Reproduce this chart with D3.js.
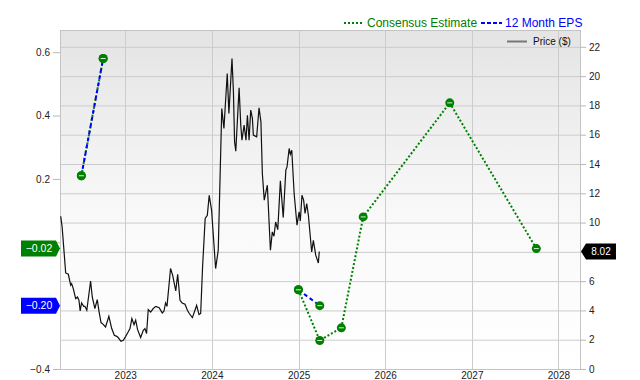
<!DOCTYPE html>
<html>
<head>
<meta charset="utf-8">
<script src="https://cdn.jsdelivr.net/npm/d3@7"></script>
<style>
    body { margin: 0; background: #fff; }
    svg { display: block; font-family: "Liberation Sans", Arial, sans-serif; }
    .grid line { stroke: #cccccc; stroke-width: 1; }
    .axis path { display: none; }
    .axis line { stroke: #b8b8b8; }
    .axis text { fill: #222; font-size: 10px; }
</style>
</head>
<body>
<div id="chart"></div>
<script>
// weekly-ish closing prices
var priceDates = [
    "2022-04-04","2022-04-10","2022-04-25","2022-05-06","2022-05-16","2022-05-20","2022-05-27","2022-06-06",
    "2022-06-14","2022-06-20","2022-06-25","2022-07-01","2022-07-10","2022-07-15","2022-07-23","2022-08-08",
    "2022-08-15","2022-08-26","2022-09-05","2022-09-13","2022-09-21","2022-09-30","2022-10-10","2022-10-24",
    "2022-11-05","2022-11-16","2022-11-26","2022-12-02","2022-12-14","2022-12-24","2023-01-03","2023-01-11",
    "2023-01-21","2023-01-29","2023-02-07","2023-02-14","2023-02-22","2023-03-07","2023-03-18","2023-03-25",
    "2023-04-01","2023-04-08","2023-04-18","2023-04-29","2023-05-10","2023-05-24","2023-06-06","2023-06-13",
    "2023-06-20","2023-06-26","2023-07-11","2023-07-20","2023-08-02","2023-08-10","2023-08-20","2023-08-29",
    "2023-09-10","2023-09-20","2023-09-28","2023-10-11","2023-10-22","2023-10-29","2023-11-08","2023-11-15",
    "2023-11-23","2023-12-04","2023-12-13","2023-12-21","2023-12-31","2024-01-17","2024-01-28","2024-02-12",
    "2024-02-21","2024-03-06","2024-03-13","2024-03-26","2024-04-01","2024-04-06","2024-04-11","2024-04-25",
    "2024-05-02","2024-05-07","2024-05-16","2024-05-24","2024-05-30","2024-06-06","2024-06-13","2024-06-20",
    "2024-06-24","2024-07-08","2024-07-18","2024-07-26","2024-08-01","2024-08-09","2024-08-22","2024-09-04",
    "2024-09-12","2024-09-19","2024-09-26","2024-10-05","2024-10-16","2024-10-28","2024-11-08","2024-11-13",
    "2024-11-22","2024-11-27","2024-12-03","2024-12-13","2024-12-25","2025-01-03","2025-01-08","2025-01-15",
    "2025-01-22","2025-01-28","2025-02-04","2025-02-11","2025-02-25","2025-03-04","2025-03-14","2025-03-25",
    "2025-03-29"
];
var priceValues = [
    10.43, 9.70, 6.56, 6.47, 5.72, 5.83, 5.49, 4.81,
    4.92, 4.69, 3.96, 4.51, 4.28, 4.28, 4.01, 6.01,
    4.92, 4.13, 4.74, 3.89, 3.17, 3.05, 2.87, 3.60,
    2.76, 2.30, 2.23, 2.15, 1.89, 1.96, 2.23, 2.46,
    2.76, 3.44, 3.02, 3.33, 2.69, 2.15, 2.64, 2.76,
    2.42, 4.06, 3.89, 4.13, 4.28, 4.19, 3.83, 3.94,
    4.51, 4.28, 6.86, 6.40, 5.33, 6.47, 4.69, 4.51,
    4.42, 4.01, 3.79, 3.51, 4.01, 4.35, 3.72, 3.79,
    6.97, 10.28, 10.50, 11.86, 10.84, 6.86, 8.11, 17.79,
    16.42, 20.18, 17.45, 21.21, 18.93, 15.51, 14.87, 19.20,
    16.65, 15.63, 16.65, 15.63, 17.33, 15.63, 17.68, 17.11,
    15.97, 15.85, 17.83, 16.88, 13.35, 11.53, 12.55, 8.11,
    9.36, 9.07, 10.04, 9.52, 12.85, 10.34, 13.58, 13.80,
    15.06, 14.67, 14.94, 11.98, 9.82, 10.73, 10.11, 11.87,
    11.53, 10.62, 11.30, 10.50, 7.99, 8.79, 7.77, 7.24,
    8.02
];

// quarterly EPS (null = gap in the line)
var epsDates = ["2022-06-30", "2022-09-30", "2023-06-30", "2024-12-31", "2025-03-31"];
var epsValues = [0.21, 0.58, null, -0.15, -0.20];

var consensusDates = ["2022-06-30", "2022-09-30", "2023-06-30", "2024-12-31", "2025-03-31",
    "2025-06-30", "2025-09-30", "2026-09-30", "2027-09-30"];
var consensusValues = [0.21, 0.58, null, -0.15, -0.31, -0.27, 0.08, 0.44, -0.02];

var yearTicks = ["2023", "2024", "2025", "2026", "2027", "2028"];
var epsTicks = [0.6, 0.4, 0.2, 0.0, -0.2, -0.4];
var priceTicks = [0, 2, 4, 6, 8, 10, 12, 14, 16, 18, 20, 22];

function init() {
    var w = 640;
    var h = 380;
    var margin = { top: 30, right: 60, bottom: 11, left: 60 };
    var width = w - margin.left - margin.right;
    var height = h - margin.top - margin.bottom;
    var parse = d3.timeParse("%Y-%m-%d");
    var green = "#008000";
    var blue = "#0000ff";

    var price = priceDates.map(function(d, i) {
        return { date: parse(d), value: priceValues[i] };
    });
    var eps = epsDates.map(function(d, i) {
        return { date: parse(d), value: epsValues[i] };
    });
    var consensus = consensusDates.map(function(d, i) {
        return { date: parse(d), value: consensusValues[i] };
    });

    var lastCons = consensusValues[consensusValues.length - 1];
    var lastEps = epsValues[epsValues.length - 1];
    var lastPrice = priceValues[priceValues.length - 1];

    var svg = d3.select("#chart")
        .append("svg")
        .attr("width", w)
        .attr("height", h);

    var grad = svg.append("defs").append("linearGradient")
        .attr("id", "bg")
        .attr("x1", 0).attr("y1", 0).attr("x2", 0).attr("y2", 1);
    grad.append("stop").attr("offset", "0%").attr("stop-color", "#e4e4e4");
    grad.append("stop").attr("offset", "55%").attr("stop-color", "#f9f9f9");
    grad.append("stop").attr("offset", "100%").attr("stop-color", "#ffffff");

    var g = svg.append("g")
        .attr("transform", "translate(" + margin.left + "," + margin.top + ")");

    var xScale = d3.scaleTime()
        .domain([parse("2022-04-01"), parse("2028-04-01")])
        .range([0, width]);

    var yPrice = d3.scaleLinear()
        .domain([0, 23.15])
        .range([height, 0]);

    var yEps = d3.scaleLinear()
        .domain([-0.4, 0.67])
        .range([height, 0]);

    g.append("rect")
        .attr("width", width)
        .attr("height", height)
        .attr("fill", "url(#bg)");

    // grid
    var grid = g.append("g").attr("class", "grid");
    grid.selectAll(".h")
        .data(priceTicks.slice(1))
        .enter().append("line")
        .attr("x1", 0).attr("x2", width)
        .attr("y1", function(d) { return yPrice(d) + 0.5; })
        .attr("y2", function(d) { return yPrice(d) + 0.5; });
    grid.selectAll(".v")
        .data(yearTicks)
        .enter().append("line")
        .attr("y1", 0).attr("y2", height)
        .attr("x1", function(d) { return Math.round(xScale(parse(d + "-01-01"))) + 0.5; })
        .attr("x2", function(d) { return Math.round(xScale(parse(d + "-01-01"))) + 0.5; });

    g.append("rect")
        .attr("x", 0.5).attr("y", 0.5)
        .attr("width", width).attr("height", height)
        .attr("fill", "none")
        .attr("stroke", "#c4c4c4");

    // axes
    var xAxis = d3.axisBottom(xScale)
        .tickValues(yearTicks.map(function(d) { return parse(d + "-01-01"); }))
        .tickFormat(d3.timeFormat("%Y"))
        .tickSize(0)
        .tickPadding(3);
    g.append("g")
        .attr("class", "x axis")
        .attr("transform", "translate(0," + height + ")")
        .call(xAxis);

    // labels sitting under a value tag are hidden in the original
    function hiddenLeft(v) {
        return Math.abs(yEps(v) - yEps(lastCons)) < 9 || Math.abs(yEps(v) - yEps(lastEps)) < 9;
    }
    var yAxisLeft = d3.axisLeft(yEps)
        .tickValues(epsTicks)
        .tickFormat(function(d) { return hiddenLeft(d) ? "" : d3.format(".1f")(d); })
        .tickSize(7)
        .tickPadding(3);
    g.append("g")
        .attr("class", "y axis")
        .call(yAxisLeft);

    var yAxisRight = d3.axisRight(yPrice)
        .tickValues(priceTicks)
        .tickFormat(function(d) { return Math.abs(yPrice(d) - yPrice(lastPrice)) < 9 ? "" : d; })
        .tickSize(6)
        .tickPadding(3);
    g.append("g")
        .attr("class", "y axis")
        .attr("transform", "translate(" + width + ",0)")
        .call(yAxisRight);

    // price line
    var priceLine = d3.line()
        .x(function(d) { return xScale(d.date); })
        .y(function(d) { return yPrice(d.value); });

    g.append("path")
        .datum(price)
        .attr("fill", "none")
        .attr("stroke", "#111")
        .attr("stroke-width", 1.2)
        .attr("d", priceLine);

    var epsLine = d3.line()
        .defined(function(d) { return d.value != null; })
        .x(function(d) { return xScale(d.date); })
        .y(function(d) { return yEps(d.value); });

    g.append("path")
        .datum(consensus)
        .attr("fill", "none")
        .attr("stroke", green)
        .attr("stroke-width", 2)
        .attr("stroke-dasharray", "2,2")
        .attr("d", epsLine);

    g.append("path")
        .datum(eps)
        .attr("fill", "none")
        .attr("stroke", blue)
        .attr("stroke-width", 2)
        .attr("stroke-dasharray", "4,3")
        .attr("d", epsLine);

    // markers
    var points = consensus.concat(eps).filter(function(d) { return d.value != null; });
    var marks = g.selectAll(".mark")
        .data(points)
        .enter().append("g")
        .attr("class", "mark")
        .attr("transform", function(d) {
            return "translate(" + xScale(d.date) + "," + yEps(d.value) + ")";
        });
    marks.append("circle")
        .attr("r", 4.5)
        .attr("fill", green);
    marks.append("line")
        .attr("x1", -2.5).attr("x2", 2.5)
        .attr("stroke", "#d8ecd8")
        .attr("stroke-width", 1);

    // value tags
    function leftTag(v, color) {
        var y = yEps(v);
        g.append("path")
            .attr("d", "M-39," + (y - 8) + "H-4L0," + y + "L-4," + (y + 8) + "H-39Z")
            .attr("fill", color);
        g.append("text")
            .attr("x", -21)
            .attr("y", y)
            .attr("dy", "0.35em")
            .attr("text-anchor", "middle")
            .attr("fill", "#fff")
            .style("font-size", "10.5px")
            .text(d3.format(".2f")(v));
    }
    leftTag(lastCons, green);
    leftTag(lastEps, blue);

    var py = yPrice(lastPrice);
    g.append("path")
        .attr("d", "M" + (width + 1) + "," + py + "L" + (width + 6) + "," + (py - 8) +
            "H" + (width + 36) + "V" + (py + 8) + "H" + (width + 6) + "Z")
        .attr("fill", "#000");
    g.append("text")
        .attr("x", width + 21)
        .attr("y", py)
        .attr("dy", "0.35em")
        .attr("text-anchor", "middle")
        .attr("fill", "#fff")
        .style("font-size", "10px")
        .text(d3.format(".2f")(lastPrice));

    // legend
    var legend = svg.append("g").style("font-size", "12px");
    legend.append("line")
        .attr("x1", 344).attr("x2", 362).attr("y1", 23).attr("y2", 23)
        .attr("stroke", green).attr("stroke-width", 2).attr("stroke-dasharray", "2,2");
    legend.append("text")
        .attr("x", 367).attr("y", 27)
        .attr("fill", green)
        .text("Consensus Estimate");
    legend.append("line")
        .attr("x1", 481).attr("x2", 502).attr("y1", 23).attr("y2", 23)
        .attr("stroke", blue).attr("stroke-width", 2).attr("stroke-dasharray", "4,2");
    legend.append("text")
        .attr("x", 505).attr("y", 27)
        .attr("fill", blue)
        .text("12 Month EPS");

    svg.append("line")
        .attr("x1", 507).attr("x2", 527).attr("y1", 41.5).attr("y2", 41.5)
        .attr("stroke", "#777").attr("stroke-width", 2);
    svg.append("text")
        .attr("x", 533).attr("y", 45)
        .attr("fill", "#111")
        .style("font-size", "10px")
        .text("Price ($)");
}

window.onload = init;
</script>
</body>
</html>
